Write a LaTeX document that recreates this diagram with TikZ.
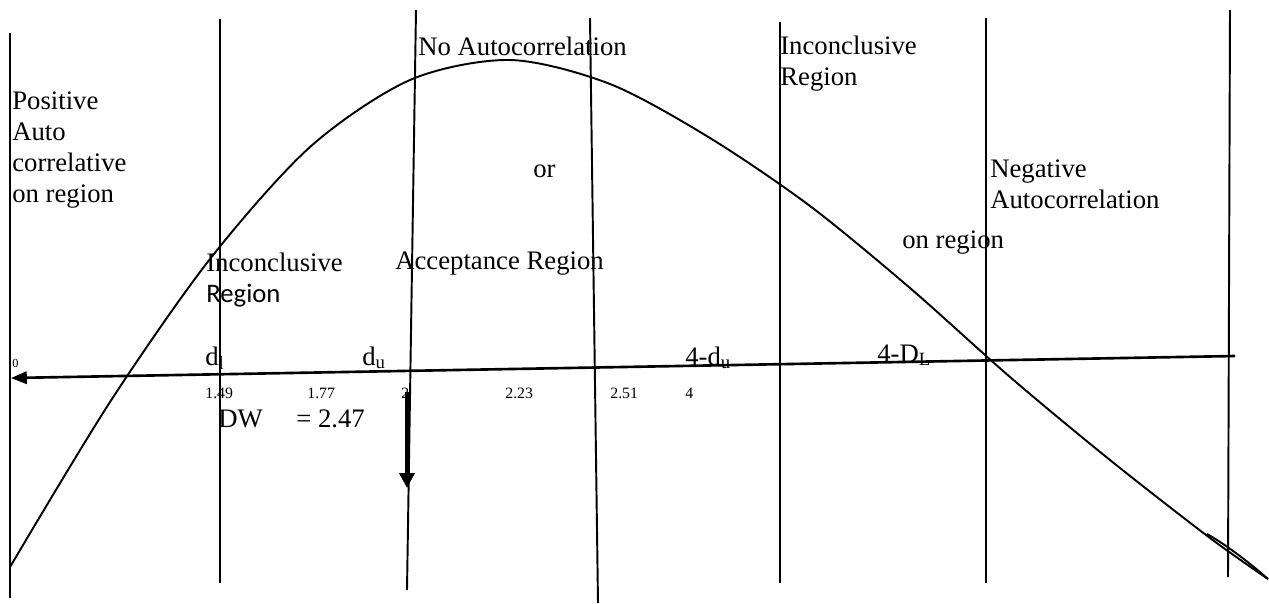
\documentclass[tikz,border=0pt]{standalone}
\usepackage{fontspec}
\setmainfont{Liberation Serif}
\newfontfamily\calibri{Carlito}
\usetikzlibrary{arrows.meta, positioning}

\tikzset{
    lbl/.style={anchor=base west, inner sep=0pt, align=left, font=\fontsize{15.2}{17.6}\selectfont},
    num/.style={anchor=base west, inner sep=0pt, font=\fontsize{9}{10}\selectfont},
    bound/.style={line width=1.1pt},
}

\begin{document}
\begin{tikzpicture}[x=0.02cm, y=-0.02cm]
    \useasboundingbox (0,0) rectangle (1269,603);

    % region boundaries
    \foreach \xa/\ya/\xb/\yb in {10/33/10/598, 220/19/220/583, 416/10/407/590, 590/18/598/603,
                                 780/22/780/583, 986/18/986/583, 1230/10/1228/577}
        \draw[bound] (\xa,\ya) -- (\xb,\yb);

    % DW axis
    \coordinate (axR) at (1235,356);
    \coordinate (axL) at (11,378);
    \draw[line width=1.5pt, -{Triangle[length=9pt, width=7pt]}] (axR) -- (axL);

    % curve
    \draw[bound] plot[smooth] coordinates {(10,567) (110,402) (210,259) (310,147) (410,80)
        (510,60) (610,84) (710,138) (810,206) (910,288) (1010,377) (1110,460) (1210,538) (1268,579)};
    \draw[bound] (1207,534) .. controls (1225,544) and (1250,563) .. (1268,579);

    % region texts (base = last line)
    \node[lbl] (pos) at (12,202) {Positive\\Auto\\correlative\\on region};
    \node[lbl] (noac) at (418,55) {No Autocorrelation};
    \node[lbl] (or) at (533,177) {or};
    \node[lbl] (inc1) at (206,302) {Inconclusive\\{\calibri Region}};
    \node[lbl] (acc) at (395,269) {Acceptance Region};
    \node[lbl] (inc2) at (780,85) {Inconclusive\\Region};
    \node[lbl] (neg) at (990,208) {Negative\\Autocorrelation};
    \node[lbl] (onreg) at (902,248) {on region};

    % axis labels
    \node[num, font=\fontsize{7}{8}\selectfont] (zero) at (12,367) {0};
    \node[lbl] (dl) at (205,365) {d\textsubscript{l}};
    \node[lbl] (du) at (362,365) {d\textsubscript{u}};
    \node[lbl] (fdu) at (685,365) {4-d\textsubscript{u}};
    \node[lbl] (fdl) at (877,362) {4-D\textsubscript{L}};
    \node[num] (v149) at (205,398) {1.49};
    \node[num] (v177) at (307,398) {1.77};
    \node[num] (v2) at (401,398) {2};
    \node[num] (v223) at (505,398) {2.23};
    \node[num] (v251) at (610,398) {2.51};
    \node[num] (v4) at (685,398) {4};

    \node[lbl] (dw) at (218,427) {DW};
    \node[lbl] (dwval) at (296,427) {= 2.47};
    \coordinate (arS) at (407,392);
    \coordinate (arE) at (407,488);
    \draw[line width=2pt, -{Triangle[length=8.5pt, width=8.5pt]}] (arS) -- (arE);
\end{tikzpicture}
\end{document}
